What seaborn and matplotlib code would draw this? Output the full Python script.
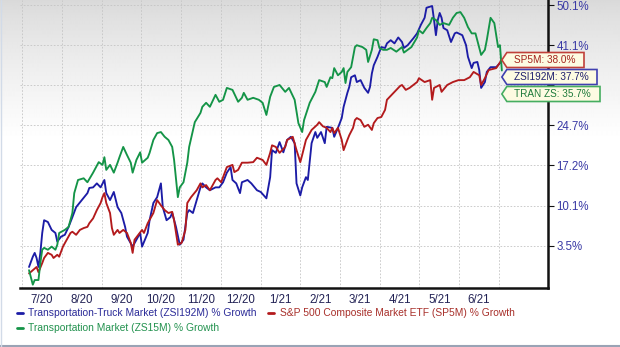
import numpy as np
import pandas as pd
import matplotlib
matplotlib.use("Agg")
import matplotlib.pyplot as plt
import seaborn as sns
from matplotlib.patches import Polygon
from matplotlib.lines import Line2D
from matplotlib.ticker import FixedLocator, NullLocator

# ---------------- data (trading-day index, % growth) ----------------
truck_days = [0, 2, 3, 4, 5, 6, 7, 8, 10, 12, 14, 15, 17, 19, 21, 23, 25, 28, 31, 32, 34, 36, 38, 40, 41,
              43, 45, 47, 49, 51, 52, 55, 57, 59, 60, 63, 64, 66, 68, 70, 71, 73, 75, 76, 78, 80, 82, 84,
              85, 87, 89, 91, 92, 94, 96, 99, 101, 103, 105, 107, 108, 110, 112, 113, 116, 118, 121, 123,
              126, 128, 129, 131, 133, 135, 137, 139, 141, 142, 144, 145, 147, 148, 150, 152, 153, 155,
              157, 158, 161, 162, 164, 166, 167, 169, 170, 171, 173, 174, 176, 178, 180, 181, 182, 183,
              185, 187, 189, 190, 192, 194, 196, 198, 199, 201, 204, 206, 208, 210, 211, 214, 215, 216,
              217, 218, 219, 220, 222, 224, 226, 227, 230, 232, 233, 235, 236, 238, 239, 240, 242, 243,
              245, 248, 251]
truck_growth = [0.2, 1.8, 2.4, 1.6, 0.2, 2.4, 5.6, 7.7, 7.4, 6.1, 5.6, 4.2, 5.0, 5.3, 6.6, 8.2, 9.9, 11.1,
                12.3, 13.2, 13.3, 14.0, 13.3, 14.6, 12.3, 11.1, 12.5, 9.9, 8.9, 6.6, 5.0, 3.4, 4.5, 5.6,
                3.4, 5.6, 7.7, 10.6, 11.6, 14.0, 9.9, 7.7, 8.2, 8.9, 6.6, 3.7, 4.5, 8.9, 9.4, 8.9, 11.1,
                13.3, 14.0, 13.3, 12.8, 13.3, 13.3, 14.2, 15.9, 16.9, 14.6, 14.0, 12.3, 14.2, 14.6, 14.0,
                12.8, 12.5, 11.4, 15.1, 20.0, 19.5, 21.5, 19.6, 21.9, 22.5, 21.3, 14.0, 11.9, 13.3, 15.1,
                14.6, 21.3, 23.4, 22.3, 23.4, 21.3, 24.4, 24.2, 22.5, 24.2, 26.1, 28.3, 31.1, 32.3, 34.3,
                34.7, 33.3, 33.7, 32.1, 31.1, 32.3, 35.1, 36.8, 38.6, 40.7, 40.5, 41.5, 42.2, 41.5, 42.8,
                41.8, 40.5, 41.1, 42.6, 43.7, 45.6, 47.2, 49.5, 49.9, 46.7, 43.3, 46.7, 48.3, 47.2, 44.9,
                44.4, 41.8, 43.7, 43.9, 43.3, 41.1, 38.6, 36.2, 37.3, 37.5, 35.8, 32.1, 33.3, 35.4, 36.4,
                36.4, 37.7]

sp500_days = [0, 2, 4, 5, 7, 8, 10, 12, 13, 15, 16, 18, 20, 22, 23, 25, 27, 29, 31, 32, 34, 36, 38, 39,
              40, 41, 43, 44, 45, 47, 48, 50, 52, 54, 55, 56, 58, 60, 61, 63, 66, 68, 70, 72, 74, 76, 77,
              79, 81, 83, 84, 86, 89, 91, 92, 94, 96, 99, 100, 102, 104, 105, 108, 109, 111, 113, 116,
              119, 121, 124, 126, 128, 129, 131, 133, 136, 137, 140, 142, 144, 145, 147, 150, 153, 154,
              156, 158, 160, 161, 162, 164, 166, 167, 169, 170, 172, 173, 174, 176, 178, 180, 182, 183,
              185, 187, 189, 190, 192, 195, 197, 198, 200, 202, 204, 206, 207, 210, 213, 214, 215, 218,
              219, 222, 225, 228, 231, 234, 236, 239, 240, 242, 244, 248, 251]
sp500_growth = [-0.8, -0.3, 0.2, -0.6, 0.8, 1.6, 2.4, 2.1, 1.6, 2.1, 1.8, 3.4, 4.5, 5.6, 5.8, 5.3, 6.1,
                6.4, 6.6, 7.2, 8.0, 9.4, 10.6, 11.6, 12.3, 10.6, 8.9, 6.4, 5.3, 6.1, 5.6, 6.1, 5.6, 4.0,
                2.4, 4.5, 5.3, 6.1, 5.6, 7.2, 8.9, 11.1, 10.2, 9.4, 8.9, 9.1, 7.7, 3.7, 4.0, 6.1, 10.6,
                11.6, 12.8, 14.0, 13.3, 13.7, 12.8, 14.6, 14.9, 14.2, 16.0, 16.9, 17.3, 16.0, 16.4, 17.7,
                17.7, 17.8, 18.6, 18.2, 17.3, 19.5, 20.9, 20.6, 19.5, 20.6, 21.9, 22.5, 20.0, 17.8, 19.1,
                21.9, 23.8, 24.8, 25.3, 24.5, 24.2, 23.4, 24.2, 23.2, 24.2, 21.9, 20.0, 21.9, 22.8, 24.2,
                25.7, 26.1, 25.7, 24.4, 24.8, 23.8, 25.1, 26.1, 26.3, 27.7, 29.7, 30.5, 31.7, 32.5, 32.7,
                31.7, 32.1, 32.7, 33.3, 34.1, 33.3, 33.7, 29.7, 32.1, 32.7, 31.3, 32.7, 33.3, 33.7, 33.7,
                34.3, 35.4, 34.7, 32.7, 34.1, 35.8, 36.2, 38.0]

transport_days = [0, 2, 3, 5, 6, 7, 8, 10, 12, 14, 15, 16, 19, 21, 23, 24, 26, 29, 31, 34, 37, 39, 40, 41,
                  43, 45, 47, 48, 50, 52, 54, 55, 57, 59, 60, 63, 64, 66, 68, 70, 72, 74, 76, 77, 79, 80,
                  82, 84, 85, 88, 91, 92, 94, 96, 99, 101, 103, 105, 108, 111, 113, 114, 116, 119, 122,
                  124, 126, 128, 130, 133, 136, 138, 141, 143, 145, 146, 149, 152, 154, 157, 158, 160,
                  161, 162, 164, 166, 167, 168, 169, 171, 173, 174, 177, 179, 180, 182, 183, 185, 186,
                  188, 190, 192, 195, 198, 199, 201, 203, 206, 207, 209, 211, 213, 214, 216, 218, 220,
                  223, 225, 227, 229, 231, 233, 235, 237, 240, 242, 243, 245, 247, 249, 250, 251]
transport_growth = [-0.3, -2.5, -1.8, -1.8, 0.8, 2.9, 3.2, 2.9, 3.4, 2.9, 3.7, 5.6, 6.1, 6.6, 8.9, 12.3,
                    14.6, 14.9, 14.2, 15.9, 17.8, 17.3, 18.7, 16.4, 17.3, 15.9, 17.7, 18.7, 20.6, 19.1,
                    17.7, 15.9, 18.2, 19.6, 17.7, 18.6, 19.5, 21.9, 23.2, 23.4, 22.5, 21.9, 20.6, 18.2,
                    11.6, 13.3, 14.2, 17.7, 20.6, 25.3, 27.1, 28.3, 29.1, 28.3, 30.7, 29.3, 29.7, 32.1,
                    31.7, 29.3, 30.1, 31.1, 29.7, 30.1, 29.7, 29.1, 26.7, 30.3, 32.3, 32.7, 31.3, 32.1,
                    29.7, 25.1, 23.4, 25.7, 29.1, 31.3, 33.7, 33.3, 32.3, 34.3, 34.1, 36.2, 34.7, 35.4,
                    36.2, 33.1, 35.4, 36.4, 40.7, 41.1, 40.7, 40.1, 37.5, 40.1, 42.4, 42.2, 40.5, 40.1,
                    40.1, 40.5, 39.7, 40.7, 39.5, 40.1, 40.7, 42.8, 44.4, 43.7, 44.9, 46.0, 47.2, 46.7,
                    45.6, 46.0, 45.6, 47.2, 48.3, 48.5, 47.2, 45.1, 43.7, 43.7, 39.0, 40.1, 42.2, 47.2,
                    46.0, 40.7, 41.1, 35.7]

series_names = ["Transportation-Truck Market (ZSI192M) % Growth",
                "S&P 500 Composite Market ETF (SP5M) % Growth",
                "Transportation Market (ZS15M) % Growth"]
end_labels = ["ZSI192M: 37.7%", "SP5M: 38.0%", "TRAN ZS: 35.7%"]
month_labels = ["7/20", "8/20", "9/20", "10/20", "11/20", "12/20",
                "1/21", "2/21", "3/21", "4/21", "5/21", "6/21"]
y_tick_values = [3.5, 10.1, 17.2, 24.7, 32.7, 41.1, 50.1]

# ---------------- styling ----------------
line_colors = ["#1c1ca6", "#b31a1c", "#149447"]
text_colors = ["#2b2b98", "#a8302b", "#23924f"]
badge_text_colors = ["#1f1f6e", "#a3221c", "#1d7a3a"]
badge_edge_colors = ["#4040b0", "#c0403a", "#45ad60"]

W, H = 620, 347
sns.set_theme(style="white")
plt.rcParams["font.family"] = ["Liberation Sans", "DejaVu Sans"]

fig = plt.figure(figsize=(W / 100, H / 100), dpi=100)

# background gradient (grey at top fading to white)
bg = fig.add_axes([0, 0, 1, 1], zorder=-10)
rows = np.arange(H)
t = np.clip(rows / 140.0, 0, 1)
shade = 0.85 + 0.15 * t ** 0.8
grad = np.repeat(shade[:, None], 4, axis=1)
bg.imshow(grad, cmap="gray", vmin=0, vmax=1, aspect="auto", extent=[0, 1, 0, 1],
          interpolation="bilinear")
bg.set_axis_off()

ax = fig.add_axes([20 / W, 1 - 288 / H, 528 / W, 288 / H])
ax.set_facecolor("none")

df = pd.concat([
    pd.DataFrame({"day": truck_days, "growth": truck_growth, "series": series_names[0]}),
    pd.DataFrame({"day": sp500_days, "growth": sp500_growth, "series": series_names[1]}),
    pd.DataFrame({"day": transport_days, "growth": transport_growth, "series": series_names[2]}),
], ignore_index=True)

sns.lineplot(data=df, x="day", y="growth", hue="series", hue_order=series_names,
             palette=dict(zip(series_names, line_colors)), estimator=None, sort=False,
             linewidth=1.35, legend=False, ax=ax)

ax.set_yscale("function", functions=(lambda g: np.log1p(np.asarray(g) / 100.0),
                                     lambda v: np.expm1(np.asarray(v)) * 100.0))
ax.set_ylim(-3.0, 51.3)
ax.set_xlim(-4.8, 275.5)

ax.yaxis.set_major_locator(FixedLocator(y_tick_values))
ax.yaxis.set_minor_locator(NullLocator())
ax.set_yticklabels([f"{v}%" if v != 32.7 else "" for v in y_tick_values])
ax.yaxis.tick_right()

grid_days = [-3.72 + 21.1 * k for k in range(13)]
month_pos = [g + 10.55 for g in grid_days[:len(month_labels)]]
ax.set_xticks(month_pos)
ax.set_xticklabels(month_labels)
ax.set_xticks(grid_days, minor=True)

ax.set_xlabel("")
ax.set_ylabel("")

ax.grid(False)
ax.grid(True, which="major", axis="y", color="#c4c4c4", linestyle=(0, (2, 2)), linewidth=0.6)
ax.grid(True, which="minor", axis="x", color="#c4c4c4", linestyle=(0, (2, 2)), linewidth=0.6)

for s in ["left", "top"]:
    ax.spines[s].set_visible(False)
for s in ["right", "bottom"]:
    ax.spines[s].set_visible(True)
    ax.spines[s].set_color("#111111")
    ax.spines[s].set_linewidth(1.8)

ax.tick_params(axis="y", which="major", right=True, left=False, length=4.5, width=0.8,
               pad=1.5, colors="#111111", labelcolor="#3a3aa5", labelsize=8.3)
ax.tick_params(axis="x", which="both", length=0, pad=4, labelcolor="#222255", labelsize=8.3)
ax.tick_params(axis="x", which="minor", length=0)

# ---------------- end-value badges ----------------
def fp(x, y):
    return (x / W, 1 - y / H)

fig.canvas.draw()
tip_x = ax.transData.transform((truck_days[-1], 0))[0]
badge_order = [1, 0, 2]               # SP5M, ZSI192M, TRAN ZS from top
badge_y = [60, 77, 94]
badge_right = [584, 597, 600]
for slot, idx in enumerate(badge_order):
    yc = badge_y[slot]
    x0 = tip_x
    pts = [fp(x0, yc), fp(x0 + 5, yc - 7.5), fp(badge_right[slot], yc - 7.5),
           fp(badge_right[slot], yc + 7.5), fp(x0 + 5, yc + 7.5)]
    poly = Polygon(pts, closed=True, transform=fig.transFigure, facecolor="#fdfbe2",
                   edgecolor=badge_edge_colors[idx], linewidth=1.2, zorder=20)
    fig.add_artist(poly)
    fig.text((x0 + 12) / W, 1 - yc / H, end_labels[idx], color=badge_text_colors[idx],
             fontsize=7.2, va="center", ha="left", zorder=21)

# ---------------- legend ----------------
legend_items = [(0, 17, 28, 313), (1, 268, 280, 313), (2, 17, 28, 328)]
for idx, xd, xt, yy in legend_items:
    fig.add_artist(Line2D([xd / W, (xd + 6) / W], [1 - yy / H, 1 - yy / H],
                          color=line_colors[idx], linewidth=2.0, transform=fig.transFigure))
    fig.text(xt / W, 1 - yy / H, series_names[idx], color=text_colors[idx],
             fontsize=7.4, va="center", ha="left")

# frame edges
fig.add_artist(Line2D([0, 1], [1.5 / H, 1.5 / H], color="#9aa3b5", linewidth=1.5,
                      transform=fig.transFigure))
fig.add_artist(Line2D([0.5 / W, 0.5 / W], [0, 1], color="#d2dbe8", linewidth=1.0,
                      transform=fig.transFigure))

fig.savefig("out.png", dpi=100)
